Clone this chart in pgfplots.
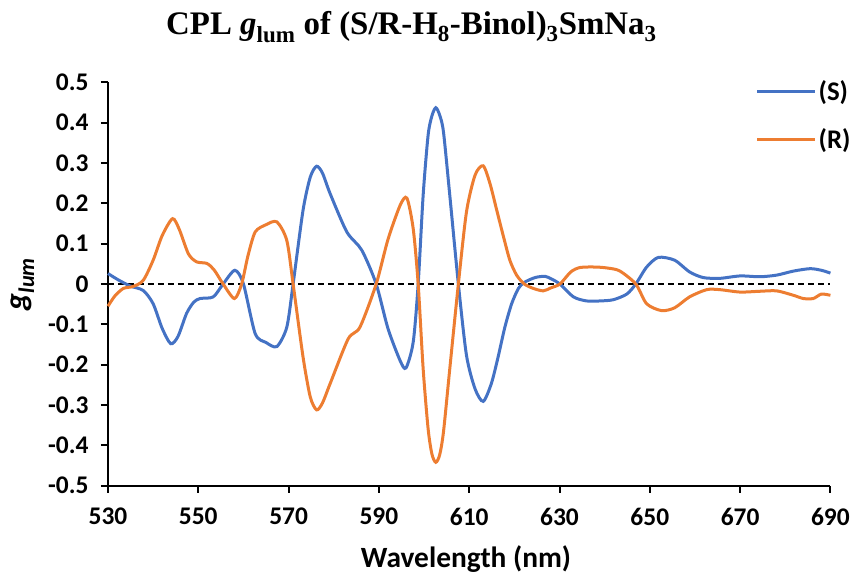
\documentclass[border=0pt]{standalone}
\usepackage{fontspec}
\setmainfont{Carlito}
\newfontfamily\timesfont{Liberation Serif}
\usepackage{pgfplots}
\pgfplotsset{compat=1.18}
\definecolor{sblue}{HTML}{4472C4}
\definecolor{rorange}{HTML}{ED7D31}
\begin{document}
\begin{tikzpicture}
\begin{axis}[
  at={(0,0)}, anchor=south west,
  scale only axis, width=722.4bp, height=403.4bp,
  xmin=530, xmax=690, ymin=-0.5, ymax=0.5,
  xtick={530,550,...,690}, ytick={-0.5,-0.4,...,0.5},
  axis lines=left, axis line style={-, line width=2.2bp, black},
  tick align=outside, major tick length=7bp,
  tick style={line width=2bp, black},
  /pgf/number format/assume math mode=true,
  yticklabel style={font=\bfseries\fontsize{25.5}{30}\selectfont, xshift=-9bp,
    /pgf/number format/fixed, /pgf/number format/precision=1},
  xticklabel style={font=\bfseries\fontsize{25.5}{30}\selectfont, yshift=-12bp,
    /pgf/number format/1000 sep={}},
  title={\timesfont\bfseries\fontsize{33}{38}\selectfont CPL \textit{g}\textsubscript{lum} of (S/R-H\textsubscript{8}-Binol)\textsubscript{3}SmNa\textsubscript{3}},
  title style={at={(rel axis cs:0.42,1.122)}, anchor=center},
  xlabel={Wavelength (nm)},
  xlabel style={font=\bfseries\fontsize{29.5}{34}\selectfont, at={(rel axis cs:0.4956,-0.183)}, anchor=center},
  ylabel={\textit{g\textsubscript{lum}}},
  ylabel style={font=\bfseries\fontsize{32}{36}\selectfont, at={(rel axis cs:-0.118,0.5)}, anchor=center},
  legend style={at={(rel axis cs:1.035,1.015)}, anchor=north east, draw=none, fill=none,
    font=\bfseries\fontsize{27}{31}\selectfont, row sep=23bp},
  legend cell align=left,
  legend image code/.code={\draw[#1] (0bp,0bp) -- (58bp,0bp);},
  clip=false,
]
\addplot[black, dashed, line width=1.5bp, dash pattern=on 6bp off 4bp, forget plot] coordinates {(530,0) (690,0)};
\addplot[sblue, line width=3bp, smooth, tension=0.45] coordinates {
(530,0.026) (532,0.012) (534.9,-0.005) (537.8,-0.016) (540,-0.049) (542,-0.11)
(543.9,-0.148) (545.5,-0.13) (547.4,-0.073) (549,-0.045) (550.4,-0.036) (553.3,-0.032)
(555.5,0.0) (558.1,0.034) (560,0.0) (562.6,-0.123) (565,-0.145) (567.4,-0.155)
(569.6,-0.107) (571,0.0) (573.2,0.183) (574.8,0.265) (576.2,0.292) (577.5,0.275)
(579.2,0.224) (582.9,0.129) (586.2,0.084) (589.4,0.0) (592,-0.11) (594.7,-0.19)
(596,-0.208) (597.6,-0.144) (598.7,0.0) (599.8,0.22) (600.9,0.369) (601.75,0.417)
(602.6,0.437) (603.45,0.419) (604.3,0.377) (605.7,0.22) (607.6,0.0) (609.4,-0.177)
(611.3,-0.26) (613.1,-0.291) (614.9,-0.247) (616.4,-0.181) (617.9,-0.107) (619.4,-0.049)
(620.9,-0.011) (622.2,0.004) (624.6,0.016) (626.8,0.019) (628.3,0.012) (630.1,0.0)
(633.1,-0.032) (636,-0.042)
(639,-0.042) (641.9,-0.039) (644.9,-0.025) (646.9,0.0) (649.3,0.042) (651.9,0.066)
(655.5,0.059) (658.8,0.030) (661.8,0.016) (665.5,0.014) (670,0.020) (674.4,0.018)
(678.1,0.022) (681.8,0.032) (685.5,0.038) (688,0.034) (690,0.027)
};
\addlegendentry{(S)}
\addplot[rorange, line width=3bp, smooth, tension=0.45] coordinates {
(530,-0.055) (531.5,-0.03) (533.4,-0.011) (535.6,-0.006) (537.8,0.009) (540,0.059)
(542,0.12) (544.3,0.162) (545.8,0.135) (547.8,0.075) (549.6,0.055) (551.9,0.051)
(553.5,0.035) (555.5,0.0) (558,-0.036) (559.6,0.0) (561,0.07) (562.6,0.129)
(565,0.147) (567.4,0.154) (569.6,0.108) (571,0.0) (573.2,-0.181) (574.8,-0.28)
(576.2,-0.312) (577.5,-0.295) (579.2,-0.247) (583.2,-0.136) (585.8,-0.107) (589.4,0.0)
(592,0.11) (594.7,0.195) (596.2,0.213) (597.6,0.137) (598.7,0.0) (599.8,-0.21)
(600.9,-0.359) (601.75,-0.422) (602.6,-0.442) (603.45,-0.424) (604.3,-0.367) (605.7,-0.21)
(607.6,0.0) (609.4,0.179) (611.3,0.27) (613.1,0.293) (614.6,0.249) (616.1,0.183)
(617.6,0.117) (619,0.059) (620.5,0.022) (622.2,0.0) (624.2,-0.011) (626.4,-0.017)
(628,-0.01) (630.1,0.0) (632.5,0.03) (634.6,0.041)
(638.2,0.042) (641,0.039) (643.4,0.032) (646.9,0.0) (649.3,-0.049) (652.6,-0.066)
(655.5,-0.059) (658.8,-0.032) (662.6,-0.014) (665.5,-0.014) (670,-0.020) (674.4,-0.018)
(678.1,-0.017) (681.8,-0.028) (684,-0.036) (686.2,-0.036) (688,-0.025) (690,-0.028)
};
\addlegendentry{(R)}
\end{axis}
\pgfresetboundingbox
\path[use as bounding box] (-108bp,-89.3bp) rectangle (745bp,485.7bp);
\end{tikzpicture}
\end{document}
